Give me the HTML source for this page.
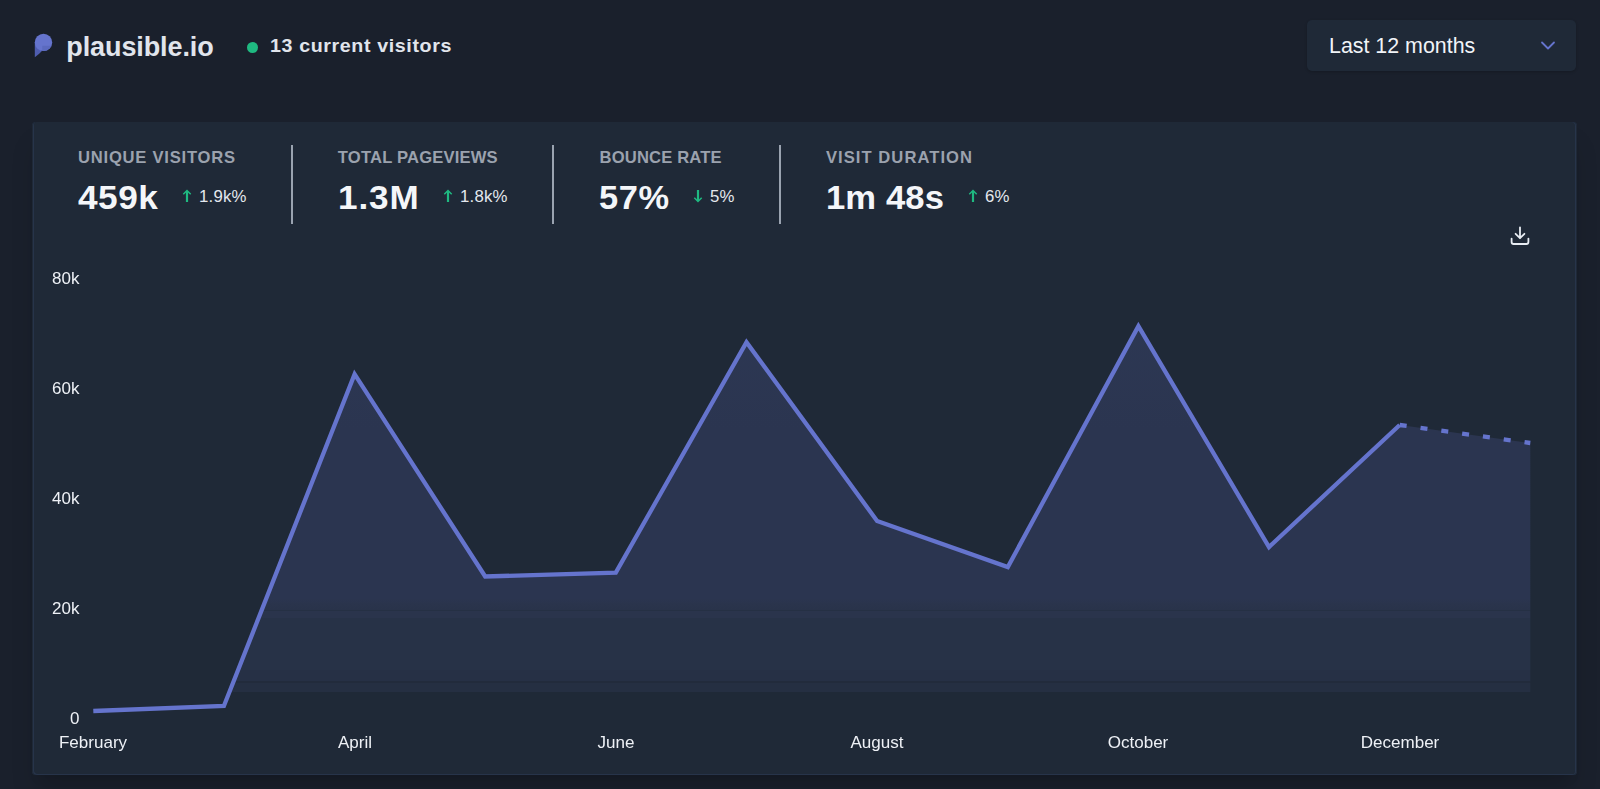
<!DOCTYPE html>
<html lang="en">
<head>
<meta charset="utf-8">
<title>Plausible Analytics · plausible.io</title>
<style>
  html, body { margin: 0; padding: 0; }
  body {
    width: 1600px; height: 789px; overflow: hidden; position: relative;
    background: #1a202c;
    font-family: "Liberation Sans", sans-serif;
    color: #e2e8f0;
  }
  .abs { position: absolute; white-space: nowrap; line-height: 1; }

  /* header */
  #logo { left: 33px; top: 32px; width: 22px; height: 28px; }
  #site { left: 66.3px; top: 34px; font-size: 27px; font-weight: bold; color: #e1e5ec; letter-spacing: -0.1px; }
  #dot { left: 247px; top: 42px; width: 11px; height: 11px; border-radius: 50%; background: #1fb981; }
  #visitors { left: 270px; top: 37px; font-size: 18.2px; font-weight: bold; color: #e1e5ec; letter-spacing: 0.57px; transform: scaleX(1.08); transform-origin: 0 50%; }

  #picker {
    left: 1307px; top: 20px; width: 269px; height: 51px; border-radius: 5px;
    background: #1f2937; box-shadow: 0 1px 3px rgba(0,0,0,.2);
  }
  #picker span { position: absolute; left: 22px; top: 16px; font-size: 21.4px; color: #f1f4f8; line-height: 1; }
  #picker svg { position: absolute; left: 233px; top: 20px; }

  /* card */
  #card {
    left: 32px; top: 122px; width: 1545px; height: 653px; border-radius: 4px;
    background: #1f2937;
    box-shadow: 0 20px 25px -5px rgba(0,0,0,.16), 0 10px 10px -6px rgba(0,0,0,.07), inset 1px 0 0 #1f2937, inset -1px 0 0 #1f2937, inset 2px -1px 0 #27344a, inset -2px 0 0 #27344a;
  }

  .lbl { font-size: 16.6px; font-weight: bold; color: #9ba2ae; letter-spacing: 0.75px; top: 150px; }
  .val { font-size: 34px; font-weight: bold; color: #f4f6f9; top: 180px; letter-spacing: 1px; transform-origin: 0 50%; }
  .chg { font-size: 16.8px; color: #e4e8ee; top: 189px; letter-spacing: 0.2px; }
  .arr { position: absolute; top: 189px; width: 10px; height: 14px; }
  .div { position: absolute; top: 145px; width: 2px; height: 79px; background: #9aa3b0; }

  .yl { will-change: transform; font-size: 17px; color: #eef1f6; right: 1520.6px; text-align: right; }
  .xl { will-change: transform; font-size: 17.05px; color: #eef1f6; width: 200px; margin-left: -100px; text-align: center; top: 734.4px; }
</style>
</head>
<body>

<!-- header -->
<svg id="logo" class="abs" viewBox="0 0 22 28">
  <defs><clipPath id="lc"><circle cx="10.5" cy="10.4" r="8.7"/></clipPath></defs>
  <path d="M1.8 10 L1.8 25.2 Q6 22.4 8.7 19.3 L8.7 10 Z" fill="#4f5db0"/>
  <circle cx="10.5" cy="10.4" r="8.7" fill="#6574cd"/>
  <rect x="9.3" y="13.8" width="12" height="8" fill="#5b6abf" clip-path="url(#lc)"/>
  <path d="M1.8 13 L1.8 19 L8 19.3 Q4 17 1.8 13 Z" fill="#5f6ec6" clip-path="url(#lc)"/>
</svg>
<div id="site" class="abs">plausible.io</div>
<div id="dot" class="abs"></div>
<div id="visitors" class="abs">13 current visitors</div>

<div id="picker" class="abs">
  <span>Last 12 months</span>
  <svg width="16" height="12" viewBox="0 0 16 12"><path d="M2 2.5 L8 8.5 L14 2.5" fill="none" stroke="#6574cd" stroke-width="1.8" stroke-linecap="round" stroke-linejoin="round"/></svg>
</div>

<!-- card -->
<div id="card" class="abs"></div>

<!-- stats -->
<div class="abs lbl" style="left:78px;letter-spacing:0.77px">UNIQUE VISITORS</div>
<div class="abs val" style="left:77.5px;letter-spacing:0.5px;transform:scaleX(1.035)">459k</div>
<svg class="arr" style="left:182.4px" viewBox="0 0 10 14"><path d="M5 2 V13" fill="none" stroke="#1fb981" stroke-width="2.2"/><path d="M1.3 5.3 L5 1.5 L8.7 5.3" fill="none" stroke="#1fb981" stroke-width="1.5" stroke-linejoin="miter"/></svg>
<div class="abs chg" style="left:199px">1.9k%</div>

<div class="div" style="left:291px"></div>

<div class="abs lbl" style="left:337.8px;letter-spacing:0.18px">TOTAL PAGEVIEWS</div>
<div class="abs val" style="left:337.5px;letter-spacing:0.9px;transform:scaleX(1.032)">1.3M</div>
<svg class="arr" style="left:443.4px" viewBox="0 0 10 14"><path d="M5 2 V13" fill="none" stroke="#1fb981" stroke-width="2.2"/><path d="M1.3 5.3 L5 1.5 L8.7 5.3" fill="none" stroke="#1fb981" stroke-width="1.5" stroke-linejoin="miter"/></svg>
<div class="abs chg" style="left:460px">1.8k%</div>

<div class="div" style="left:552px"></div>

<div class="abs lbl" style="left:599.5px;letter-spacing:0.17px">BOUNCE RATE</div>
<div class="abs val" style="left:599.3px;letter-spacing:0.6px;transform:scaleX(1.012)">57%</div>
<svg class="arr" style="left:693.35px" viewBox="0 0 10 14"><path d="M5 1 V12" fill="none" stroke="#1fb981" stroke-width="2.2"/><path d="M1.3 8.7 L5 12.5 L8.7 8.7" fill="none" stroke="#1fb981" stroke-width="1.5" stroke-linejoin="miter"/></svg>
<div class="abs chg" style="left:710px">5%</div>

<div class="div" style="left:779px"></div>

<div class="abs lbl" style="left:826px;letter-spacing:1.04px">VISIT DURATION</div>
<div class="abs val" style="left:826.3px;letter-spacing:0.1px;transform:scaleX(1.018)">1m 48s</div>
<svg class="arr" style="left:968.3px" viewBox="0 0 10 14"><path d="M5 2 V13" fill="none" stroke="#1fb981" stroke-width="2.2"/><path d="M1.3 5.3 L5 1.5 L8.7 5.3" fill="none" stroke="#1fb981" stroke-width="1.5" stroke-linejoin="miter"/></svg>
<div class="abs chg" style="left:985px">6%</div>

<!-- chart -->
<svg class="abs" style="left:0;top:0" width="1600" height="789" viewBox="0 0 1600 789">
  <defs>
    <linearGradient id="g" gradientUnits="userSpaceOnUse" x1="0" y1="300" x2="0" y2="700">
      <stop offset="0.0000" stop-color="#2d3854"/>
      <stop offset="0.3250" stop-color="#2b3550"/>
      <stop offset="0.7462" stop-color="#2b3550"/>
      <stop offset="0.7600" stop-color="#2a344c"/>
      <stop offset="0.7740" stop-color="#29334a"/>
      <stop offset="0.7740" stop-color="#253044"/>
      <stop offset="0.7765" stop-color="#253044"/>
      <stop offset="0.7765" stop-color="#2a344c"/>
      <stop offset="0.7940" stop-color="#2a344c"/>
      <stop offset="0.7940" stop-color="#273247"/>
      <stop offset="0.9260" stop-color="#273247"/>
      <stop offset="0.9260" stop-color="#263045"/>
      <stop offset="0.9530" stop-color="#263045"/>
      <stop offset="0.9530" stop-color="#222b3c"/>
      <stop offset="0.9570" stop-color="#222b3c"/>
      <stop offset="0.9570" stop-color="#252f42"/>
      <stop offset="0.9800" stop-color="#252f42"/>
      <stop offset="0.9800" stop-color="#1f2937"/>
      <stop offset="1.0000" stop-color="#1f2937"/>
    </linearGradient>
  </defs>
  <path id="area" fill="url(#g)" d="M93.3 711.0 L223.9 706.0 L354.6 374.2 L485.2 576.5 L615.8 572.6 L746.5 342.2 L877.1 521.0 L1007.8 567.0 L1138.4 326.2 L1269.0 547.0 L1399.7 425.0 L1530.3 443.0 L1530.3 700 L93.3 700 Z"/>
  <path fill="none" stroke="#6574cd" stroke-width="4.3" stroke-linejoin="miter" d="M93.3 711.0 L223.9 706.0 L354.6 374.2 L485.2 576.5 L615.8 572.6 L746.5 342.2 L877.1 521.0 L1007.8 567.0 L1138.4 326.2 L1269.0 547.0 L1399.7 425.0"/>
  <path fill="none" stroke="#6574cd" stroke-width="4.3" stroke-dasharray="7 14" d="M1399.7 425.0 L1530.3 443.0"/>
</svg>

<div class="abs yl" style="top:270.2px">80k</div>
<div class="abs yl" style="top:380.1px">60k</div>
<div class="abs yl" style="top:490.0px">40k</div>
<div class="abs yl" style="top:599.9px">20k</div>
<div class="abs yl" style="top:709.8px">0</div>

<div class="abs xl" style="left:93.3px">February</div>
<div class="abs xl" style="left:354.6px">April</div>
<div class="abs xl" style="left:615.8px">June</div>
<div class="abs xl" style="left:877.1px">August</div>
<div class="abs xl" style="left:1138.4px">October</div>
<div class="abs xl" style="left:1399.7px">December</div>

<svg class="abs" style="left:1507.6px;top:224px" width="24" height="24" viewBox="0 0 24 24">
  <path d="M12 3.3 V14.2 M7.6 9.8 L12 14.2 L16.4 9.8 M3.6 14.6 V18 Q3.6 20 5.6 20 H18.4 Q20.4 20 20.4 18 V14.6" fill="none" stroke="#e8edf3" stroke-width="1.8" stroke-linecap="round" stroke-linejoin="round"/>
</svg>

</body>
</html>
